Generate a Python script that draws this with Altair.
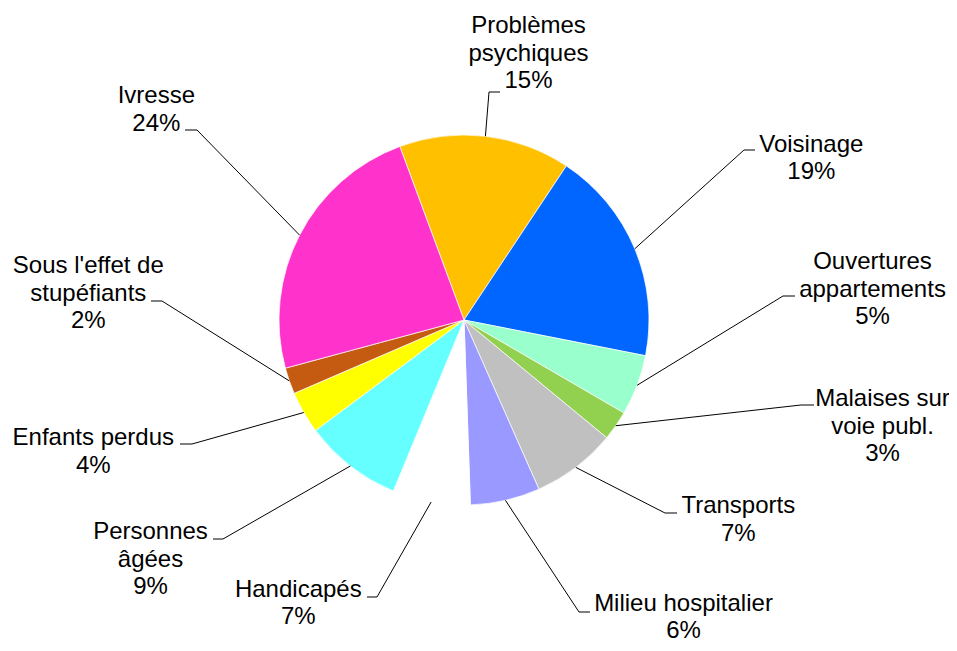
import math
import altair as alt
import pandas as pd

# ---------------- data ----------------
categories = [
    "Problèmes psychiques", "Voisinage", "Ouvertures appartements",
    "Malaises sur voie publ.", "Transports", "Milieu hospitalier",
    "Handicapés", "Personnes âgées", "Enfants perdus",
    "Sous l'effet de stupéfiants", "Ivresse",
]
label_names = [
    "Problèmes\npsychiques", "Voisinage", "Ouvertures\nappartements",
    "Malaises sur\nvoie publ.", "Transports", "Milieu hospitalier",
    "Handicapés", "Personnes\nâgées", "Enfants perdus",
    "Sous l'effet de\nstupéfiants", "Ivresse",
]
values = [15.0, 18.8, 5.3, 2.6, 7.4, 6.1, 6.8, 8.6, 3.7, 2.3, 23.6]
colors = [
    "#FFC000", "#0066FF", "#99FFCC", "#92D050", "#C0C0C0", "#9999FF",
    "#FFFFFF", "#66FFFF", "#FFFF00", "#C55A11", "#FF33CC",
]

# ---------------- label layout (relative to pie centre, px) ----------------
elbow_x = [25, 280, 319, 337, 201, 115, -87, -241, -272, -302, -267]
elbow_y = [-228, -170, -24, 85, 193, 292, 277, 219, 124, -19, -190]
seg_dir = [1, 1, 1, 1, 1, 1, -1, -1, -1, -1, -1]
seg_len = [11, 11, 12, 13, 12, 11, 10, 10, 12, 11, 12]
text_x = [64.5, 347.3, 408.5, 418.5, 274.3, 219.5, -165.7, -313.5, -370.7, -375.7, -307.7]
text_y = [-287, -168.3, -50.7, 86, 193.3, 290.5, 276.7, 219.3, 125, -46.7, -216.7]

W, H = 912, 624
R = 185
START = math.radians(339.7)

total = sum(values)
pcts = [f"{round(v / total * 100)}%" for v in values]

df = pd.DataFrame({
    "cat": categories,
    "value": values,
    "idx": list(range(len(values))),
    "label": [n + "\n" + p for n, p in zip(label_names, pcts)],
    "ex": elbow_x,
    "ey": elbow_y,
    "hx": [x + d * l for x, d, l in zip(elbow_x, seg_dir, seg_len)],
    "tx": text_x,
    "ty": text_y,
})

base = alt.Chart(df)

xs = alt.Scale(domain=[-W / 2, W / 2], nice=False, zero=False)
ys = alt.Scale(domain=[-H / 2, H / 2], nice=False, zero=False, reverse=True)

arcs = base.mark_arc(outerRadius=R, stroke="white", strokeWidth=0.7).encode(
    theta=alt.Theta("value:Q", stack=True,
                    scale=alt.Scale(range=[START, START + 2 * math.pi])),
    color=alt.Color("cat:N", scale=alt.Scale(domain=categories, range=colors),
                    legend=None),
    order=alt.Order("idx:Q", sort="ascending"),
)

geo = base.transform_window(
    cum="sum(value)", sort=[alt.SortField("idx")], frame=[None, 0]
).transform_joinaggregate(
    total="sum(value)"
).transform_calculate(
    mid=f"{START} + 2*PI*(datum.cum - datum.value/2)/datum.total"
).transform_calculate(
    x0=f"{R}*sin(datum.mid)", y0=f"-{R}*cos(datum.mid)"
)

lead1 = geo.mark_rule(color="#000000", strokeWidth=1).encode(
    x=alt.X("x0:Q", scale=xs, axis=None),
    y=alt.Y("y0:Q", scale=ys, axis=None),
    x2="ex:Q",
    y2="ey:Q",
)

lead2 = base.mark_rule(color="#000000", strokeWidth=1).encode(
    x=alt.X("ex:Q", scale=xs, axis=None),
    y=alt.Y("ey:Q", scale=ys, axis=None),
    x2="hx:Q",
    y2="ey:Q",
)

texts = base.mark_text(
    align="center", baseline="alphabetic", lineBreak="\n",
    font="Liberation Sans", fontSize=24, lineHeight=27.5, color="#000000",
).encode(
    x=alt.X("tx:Q", scale=xs, axis=None),
    y=alt.Y("ty:Q", scale=ys, axis=None),
    text="label:N",
)

chart = alt.layer(arcs, lead1, lead2, texts).properties(
    width=W, height=H,
    autosize=alt.AutoSizeParams(type="none"),
    padding={"left": 0, "top": 0, "right": 29, "bottom": 11},
    background="white",
).configure_view(stroke=None)

chart.save("out.html", embed_options={"renderer": "svg", "actions": False})
